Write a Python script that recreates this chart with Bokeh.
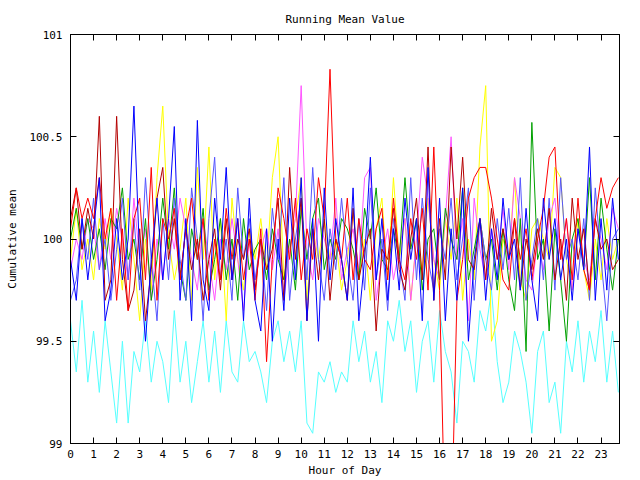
from bokeh.plotting import figure
from bokeh.models import Range1d, FixedTicker, LinearAxis
from bokeh.embed import file_html
from bokeh.resources import INLINE

hours = [i / 4 for i in range(96)]

cyan = [99.6, 99.35, 99.7, 99.3, 99.55, 99.25, 99.6, 99.35, 99.1, 99.5, 99.1, 99.45,
        99.35, 99.6, 99.3, 99.5, 99.4, 99.2, 99.65, 99.3, 99.5, 99.2, 99.4, 99.6,
        99.3, 99.55, 99.25, 99.6, 99.35, 99.3, 99.6, 99.4, 99.45, 99.35, 99.2, 99.5,
        99.6, 99.4, 99.55, 99.35, 99.6, 99.1, 99.05, 99.35, 99.3, 99.4, 99.25, 99.35,
        99.3, 99.6, 99.4, 99.55, 99.3, 99.45, 99.2, 99.6, 99.5, 99.7, 99.45, 99.6,
        99.25, 99.5, 99.6, 99.3, 99.65, 99.45, 99.35, 99.1, 99.5, 99.45, 99.3, 99.65,
        99.55, 99.75, 99.4, 99.2, 99.3, 99.55, 99.45, 99.3, 99.05, 99.45, 99.55, 99.2,
        99.3, 99.05, 99.5, 99.35, 99.6, 99.3, 99.55, 99.4, 99.65, 99.3, 99.55, 99.25]

yellow = [99.9, 100.15, 99.85, 100.0, 99.8, 100.1, 99.95, 100.15, 100.0, 99.75, 100.2, 99.9,
          99.6, 100.0, 99.75, 100.3, 100.65, 100.0, 99.8, 99.95, 100.2, 99.7, 100.35, 99.9,
          100.45, 99.8, 100.1, 99.6, 100.2, 99.9, 99.75, 100.05, 99.9, 100.1, 99.85, 100.3,
          100.5, 99.8, 99.95, 100.1, 100.3, 99.7, 100.05, 99.9, 100.1, 99.9, 100.0, 99.75,
          99.9, 100.15, 99.8, 100.0, 99.7, 100.05, 100.2, 99.8, 100.3, 99.9, 100.1, 99.7,
          100.0, 99.85, 100.2, 99.9, 99.75, 100.1, 99.9, 100.2, 99.7, 100.0, 99.8, 100.45,
          100.75, 99.5, 99.6, 100.0, 99.9, 100.3, 99.8, 99.7, 100.05, 100.1, 100.0, 99.9,
          100.35, 100.3, 99.9, 99.75, 100.1, 99.85, 99.7, 100.0, 99.8, 100.1, 99.9, 100.0]

magenta = [99.85, 100.0, 99.9, 100.1, 100.05, 99.85, 100.1, 99.9, 100.15, 100.0, 99.8, 100.2,
           99.9, 100.05, 99.7, 100.0, 99.8, 100.1, 99.95, 100.2, 100.05, 99.9, 99.75, 100.1,
           99.9, 99.7, 100.0, 99.85, 100.1, 99.9, 99.65, 100.0, 99.8, 99.95, 100.05, 99.85,
           100.05, 99.7, 99.95, 100.1, 100.75, 99.95, 99.8, 100.1, 100.0, 99.9, 100.2, 99.8,
           99.95, 100.05, 99.85, 100.3, 100.35, 99.7, 99.9, 100.05, 99.8, 99.95, 100.1, 99.7,
           100.0, 100.4, 100.2, 99.9, 99.8, 100.1, 100.5, 99.9, 100.1, 99.6, 100.2, 99.95,
           99.8, 100.05, 99.9, 100.15, 99.85, 100.3, 100.1, 99.8, 99.75, 100.0, 99.85, 100.1,
           100.2, 99.9, 100.1, 99.75, 100.05, 99.9, 99.8, 100.1, 100.0, 99.85, 100.15, 100.05]

green = [100.0, 100.15, 99.95, 100.1, 99.9, 100.05, 99.85, 100.1, 100.05, 100.25, 99.9, 100.0,
         99.8, 100.1, 99.7, 99.9, 100.2, 99.95, 100.25, 99.85, 99.7, 100.05, 99.9, 100.15,
         99.75, 99.9, 100.1, 99.8, 100.0, 99.7, 100.1, 99.85, 99.95, 100.0, 99.8, 100.05,
         99.9, 99.8, 100.0, 99.75, 100.15, 99.9, 100.1, 100.2, 99.85, 100.0, 99.9, 100.1,
         100.05, 99.95, 99.8, 100.15, 100.0, 100.25, 99.9, 99.85, 100.05, 99.9, 100.3, 99.95,
         100.1, 99.75, 100.0, 100.05, 99.8, 100.15, 100.0, 99.9, 100.25, 99.8, 99.95, 100.1,
         99.9, 100.0, 99.75, 100.05, 99.8, 99.65, 100.1, 99.45, 100.57, 99.9, 100.0, 99.55,
         100.05, 99.8, 99.5, 100.0, 100.1, 99.85, 100.3, 99.8, 100.2, 99.95, 99.75, 100.0]

slateblue = [99.7, 99.8, 100.1, 99.9, 100.2, 99.85, 100.0, 99.7, 99.95, 100.2, 99.8, 100.1,
             99.75, 100.3, 99.9, 99.6, 100.1, 99.8, 100.2, 99.9, 99.7, 100.25, 100.0, 99.6,
             100.1, 100.4, 99.8, 100.0, 99.7, 100.25, 99.9, 100.1, 99.8, 100.0, 99.65, 100.15,
             99.9, 100.3, 99.7, 100.0, 100.2, 99.8, 100.35, 99.9, 99.7, 100.05, 99.85, 100.2,
             99.9, 99.7, 100.1, 99.75, 100.25, 99.8, 100.0, 99.65, 100.1, 99.9, 99.7, 100.3,
             99.8, 100.2, 99.9, 99.75, 100.05, 99.9, 100.2, 99.8, 100.0, 100.25, 99.7, 100.1,
             99.9, 99.75, 100.1, 99.85, 100.15, 99.8, 100.3, 99.7, 99.9, 100.1, 99.8, 100.2,
             99.75, 100.3, 99.9, 100.0, 99.8, 100.1, 99.7, 100.25, 99.9, 99.6, 100.0, 100.05]

darkred = [100.1, 100.25, 99.95, 100.15, 100.0, 100.6, 99.7, 99.8, 100.6, 99.9, 99.65, 99.75,
           100.05, 99.6, 99.85, 100.2, 100.35, 99.9, 100.1, 99.8, 100.05, 99.85, 100.0, 99.7,
           99.9, 100.05, 99.75, 100.1, 99.8, 100.0, 99.9, 100.05, 99.75, 100.0, 99.85, 99.95,
           100.2, 99.7, 100.35, 99.9, 100.2, 99.6, 100.05, 99.8, 100.1, 99.7, 100.0, 99.9,
           99.7, 100.15, 99.8, 99.95, 100.05, 99.55, 99.95, 99.9, 100.15, 99.85, 99.75, 100.0,
           100.2, 99.8, 100.45, 99.7, 100.1, 99.8, 100.45, 100.0, 100.4, 99.9, 99.85, 100.1,
           99.8, 100.15, 99.9, 100.05, 99.9, 100.1, 99.75, 100.0, 99.85, 100.05, 99.9, 100.15,
           99.8, 100.0, 99.7, 100.2, 99.9, 100.05, 99.75, 100.1, 99.95, 100.0, 99.85, 99.9]

red = [100.05, 100.25, 100.1, 100.2, 100.1, 100.3, 100.0, 100.15, 99.7, 100.05, 99.65, 100.1,
       100.2, 99.8, 100.35, 99.7, 100.1, 100.0, 100.15, 99.8, 100.05, 100.2, 99.9, 100.1,
       99.7, 100.0, 99.8, 100.15, 99.9, 100.1, 99.8, 100.0, 99.7, 100.05, 99.4, 99.9,
       100.25, 100.1, 99.9, 100.2, 99.8, 100.05, 99.9, 100.3, 100.1, 100.83, 100.0, 99.9,
       100.2, 99.8, 100.1, 99.9, 99.85, 100.05, 100.15, 99.8, 100.2, 99.9, 99.8, 100.1,
       99.9, 100.15, 99.75, 100.45, 99.75, 98.5, 98.5, 99.7, 99.9, 100.2, 100.3, 100.35,
       100.35, 100.2, 100.0, 99.8, 99.75, 100.1, 99.9, 100.05, 99.8, 100.0, 100.15, 100.4,
       100.45, 99.9, 100.1, 99.8, 100.2, 99.85, 99.75, 100.1, 100.3, 100.15, 100.25, 100.3]

blue = [99.9, 99.7, 100.1, 99.8, 100.05, 100.3, 99.6, 99.75, 100.1, 99.8, 100.0, 100.65,
        99.9, 99.5, 99.9, 100.2, 99.8, 100.1, 100.55, 99.7, 100.1, 99.6, 100.58, 99.8,
        99.65, 100.2, 99.9, 100.35, 99.8, 100.1, 99.6, 100.2, 99.7, 99.55, 100.05, 99.5,
        100.0, 99.65, 100.2, 99.8, 100.3, 99.6, 100.1, 99.5, 100.25, 99.8, 100.1, 99.9,
        99.7, 100.25, 99.6, 99.9, 100.4, 99.8, 100.1, 99.7, 100.05, 99.75, 100.2, 99.9,
        100.1, 99.6, 100.35, 99.7, 100.2, 99.6, 100.05, 99.7, 100.25, 99.5, 99.9, 100.1,
        99.7, 100.05, 99.8, 100.2, 99.9, 100.0, 99.75, 100.15, 99.8, 99.6, 100.2, 99.9,
        100.1, 99.8, 100.0, 99.7, 100.05, 99.85, 100.45, 99.7, 100.1, 99.75, 100.2, 99.9]

series = [
    (cyan, "#55ffff"),
    (yellow, "#ffff00"),
    (magenta, "#ff55ff"),
    (green, "#00a000"),
    (slateblue, "#5555ff"),
    (darkred, "#b40000"),
    (red, "#ff0000"),
    (blue, "#0000ff"),
]

x_ticks = list(range(24))
y_ticks = [99, 99.5, 100, 100.5, 101]
y_tick_labels = ["99", "99.5", "100", "100.5", "101"]

FONT = "DejaVu Sans Mono"
FS = "11px"

p = figure(width=640, height=480, output_backend="svg", toolbar_location=None,
           x_range=Range1d(0, 23.8), y_range=Range1d(99, 101),
           title="Running Mean Value", x_axis_label="Hour of Day",
           y_axis_label="Cumulative mean",
           min_border_left=70, min_border_right=21, min_border_top=34,
           min_border_bottom=37)

p.title.align = "center"
p.title.text_font = FONT
p.title.text_font_size = FS
p.title.text_font_style = "normal"
p.title.text_color = "black"
p.title.standoff = 18

p.grid.visible = False
p.outline_line_color = "black"
p.outline_line_width = 1
p.background_fill_color = "white"
p.border_fill_color = "white"

for data, col in series:
    p.line(hours, data, line_color=col, line_width=1)

def style_axis(ax, labels=True):
    ax.major_tick_in = 6
    ax.major_tick_out = 0
    ax.minor_tick_in = 0
    ax.minor_tick_out = 0
    ax.axis_line_color = "black"
    ax.major_tick_line_color = "black"
    ax.major_label_text_font = FONT
    ax.major_label_text_font_size = FS
    ax.major_label_text_color = "black"
    ax.axis_label_text_font = FONT
    ax.axis_label_text_font_size = FS
    ax.axis_label_text_font_style = "normal"
    ax.axis_label_text_color = "black"
    if not labels:
        ax.major_label_overrides = {t: "" for t in ax.ticker.ticks}
        ax.major_label_standoff = 0

xa = p.xaxis[0]
xa.ticker = FixedTicker(ticks=x_ticks)
style_axis(xa)
xa.major_label_standoff = 6
xa.axis_label_standoff = 3

ya = p.yaxis[0]
ya.ticker = FixedTicker(ticks=y_ticks)
ya.major_label_overrides = {t: l for t, l in zip(y_ticks, y_tick_labels)}
style_axis(ya)
ya.major_label_standoff = 8
ya.axis_label_standoff = 7

top = LinearAxis(ticker=FixedTicker(ticks=x_ticks))
style_axis(top, labels=False)
p.add_layout(top, "above")

right = LinearAxis(ticker=FixedTicker(ticks=y_ticks))
style_axis(right, labels=False)
p.add_layout(right, "right")

open("out.html", "w").write(file_html(p, INLINE))
